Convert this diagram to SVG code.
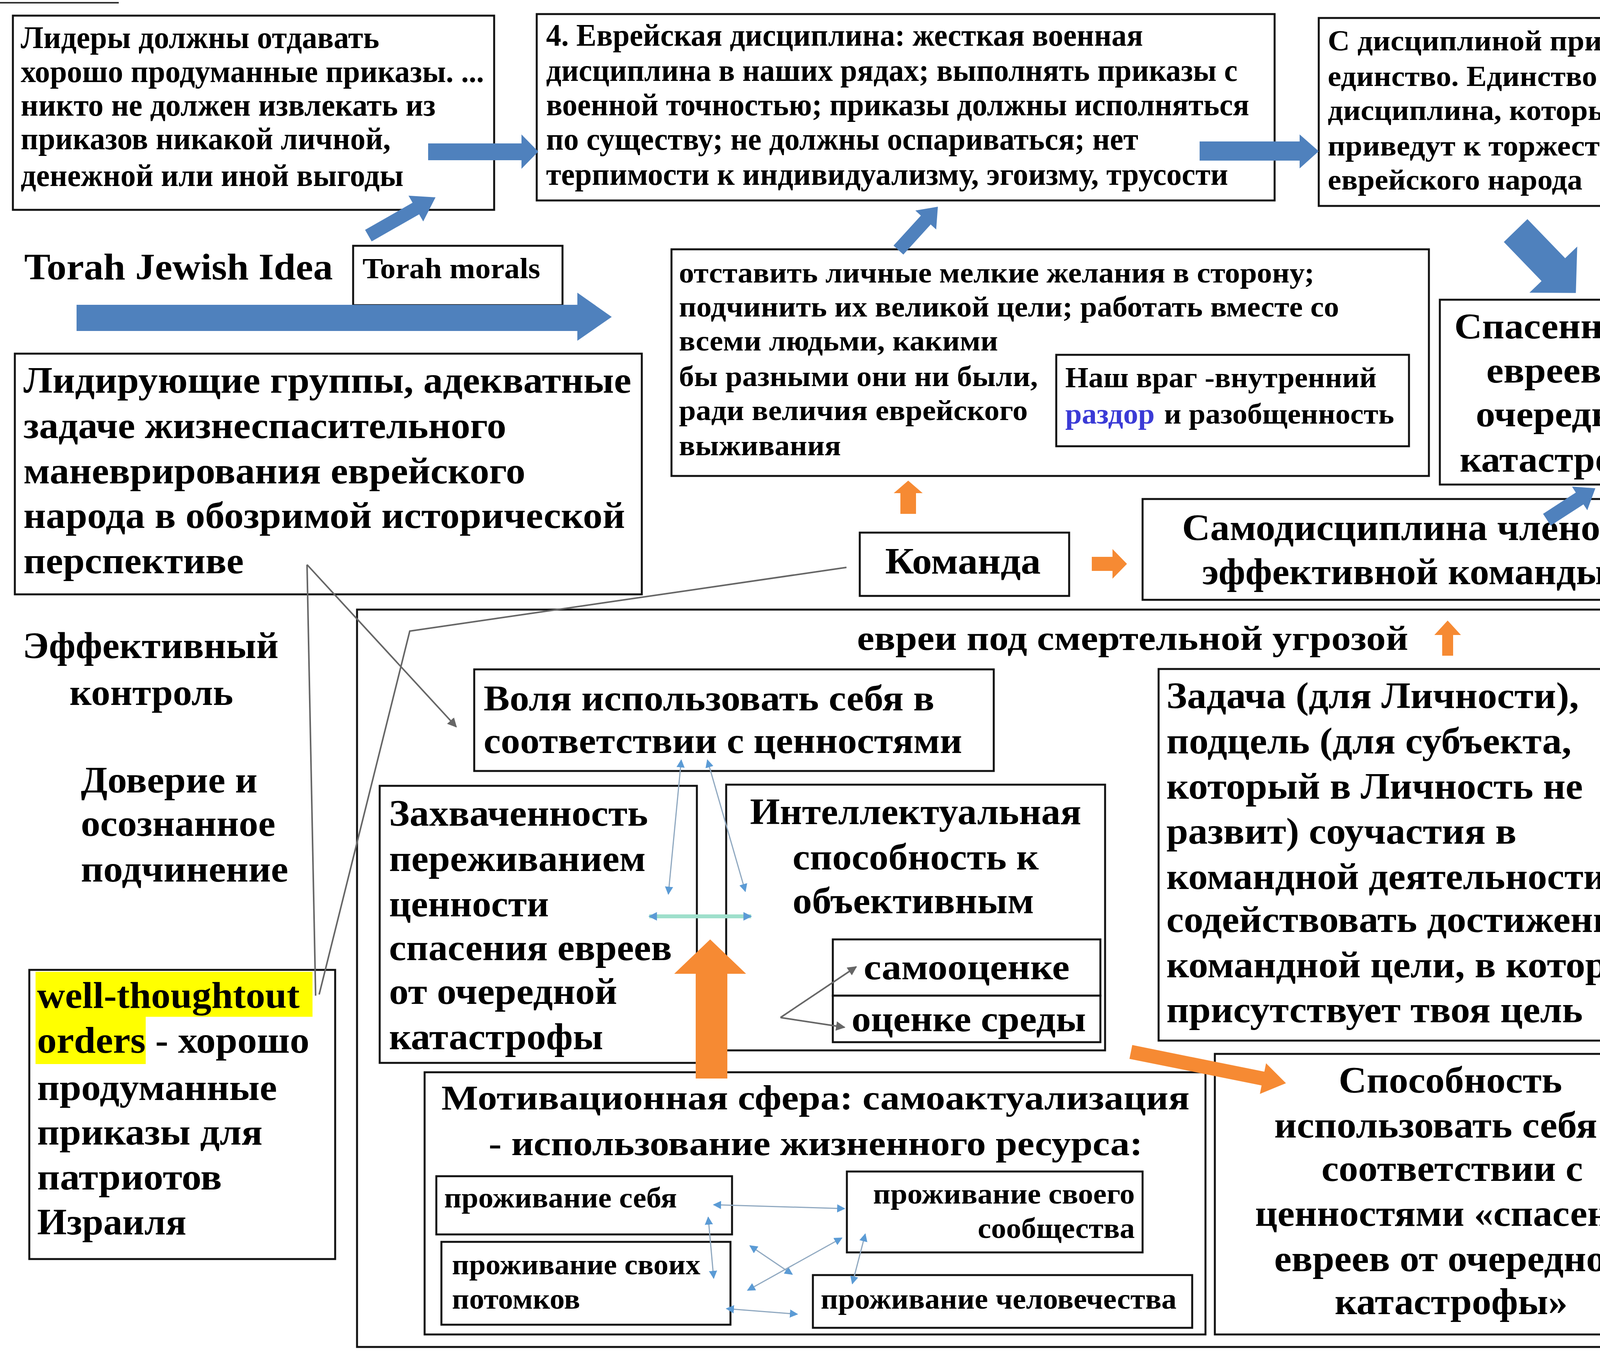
<svg xmlns="http://www.w3.org/2000/svg" width="4370" height="3465" viewBox="0 0 4370 3465">
<style>
.box{fill:#fff;stroke:#111;stroke-width:5}
.t{font-family:"Liberation Serif","Times New Roman",serif;font-weight:700;fill:#000}
.s74{font-size:74px}.s80{font-size:80px}.s88{font-size:88px}.s94{font-size:94px}.s96{font-size:96px}
.blue{fill:#4F81BD}
.orange{fill:#F68A33}
.gl{fill:none;stroke:#666;stroke-width:4}
.bl{fill:none;stroke:#8FA8C0;stroke-width:3}
</style>
<defs>
<marker id="ga" viewBox="0 0 10 10" refX="9" refY="5" markerWidth="6" markerHeight="6" orient="auto-start-reverse"><path d="M0,0L10,5L0,10z" fill="#666"/></marker>
<marker id="ba" viewBox="0 0 10 10" refX="9" refY="5" markerWidth="7" markerHeight="7" orient="auto-start-reverse"><path d="M0,0L10,5L0,10z" fill="#5B9BD5"/></marker>
<marker id="bu" viewBox="0 0 10 10" refX="9" refY="5" markerUnits="userSpaceOnUse" markerWidth="22" markerHeight="22" orient="auto-start-reverse"><path d="M0,0L10,5L0,10z" fill="#5B9BD5"/></marker>
</defs>
<rect width="4370" height="3465" fill="#fff"/>
<line x1="0" y1="7" x2="304" y2="7" stroke="#333" stroke-width="4"/>

<g id="frame"><rect class="box" x="914" y="1560" width="3429" height="1887"/></g>

<g id="n-leaders">
<rect class="box" x="33" y="40" width="1232" height="497"/>
<text class="t s80" x="53" y="123" textLength="918" lengthAdjust="spacingAndGlyphs">Лидеры должны отдавать</text>
<text class="t s80" x="53" y="210" textLength="1186" lengthAdjust="spacingAndGlyphs">хорошо продуманные приказы. ...</text>
<text class="t s80" x="53" y="296" textLength="1062" lengthAdjust="spacingAndGlyphs">никто не должен извлекать из</text>
<text class="t s80" x="53" y="382" textLength="947" lengthAdjust="spacingAndGlyphs">приказов никакой личной,</text>
<text class="t s80" x="53" y="476" textLength="980" lengthAdjust="spacingAndGlyphs">денежной или иной выгоды</text>
</g>

<g id="n-discipline">
<rect class="box" x="1374" y="36" width="1889" height="477"/>
<text class="t s80" x="1398" y="117" textLength="1528" lengthAdjust="spacingAndGlyphs">4. Еврейская дисциплина: жесткая военная</text>
<text class="t s80" x="1398" y="207" textLength="1770" lengthAdjust="spacingAndGlyphs">дисциплина в наших рядах; выполнять приказы с</text>
<text class="t s80" x="1398" y="295" textLength="1800" lengthAdjust="spacingAndGlyphs">военной точностью; приказы должны исполняться</text>
<text class="t s80" x="1398" y="383" textLength="1516" lengthAdjust="spacingAndGlyphs">по существу; не должны оспариваться; нет</text>
<text class="t s80" x="1398" y="473" textLength="1746" lengthAdjust="spacingAndGlyphs">терпимости к индивидуализму, эгоизму, трусости</text>
</g>

<g id="n-unity">
<rect class="box" x="3376" y="46" width="958" height="481"/>
<text class="t s74" x="3399" y="129" textLength="898" lengthAdjust="spacingAndGlyphs">С дисциплиной приходит</text>
<text class="t s74" x="3399" y="220" textLength="754" lengthAdjust="spacingAndGlyphs">единство. Единство и</text>
<text class="t s74" x="3399" y="307" textLength="761" lengthAdjust="spacingAndGlyphs">дисциплина, которые</text>
<text class="t s74" x="3399" y="398" textLength="775" lengthAdjust="spacingAndGlyphs">приведут к торжеству</text>
<text class="t s74" x="3399" y="485" textLength="652" lengthAdjust="spacingAndGlyphs">еврейского народа</text>
</g>

<g id="n-torah-idea">
<text class="t" font-size="95" x="62" y="715" textLength="790" lengthAdjust="spacingAndGlyphs">Torah Jewish Idea</text>
</g>

<g id="n-torah-morals">
<rect class="box" x="904" y="629" width="536" height="152"/>
<text class="t s74" x="928" y="712" textLength="455" lengthAdjust="spacingAndGlyphs">Torah morals</text>
</g>

<g id="n-salvation">
<rect class="box" x="3686" y="767" width="648" height="473"/>
<text class="t s94" x="3723" y="866" textLength="574" lengthAdjust="spacingAndGlyphs">Спасенность</text>
<text class="t s94" x="3805" y="979" textLength="416" lengthAdjust="spacingAndGlyphs">евреев от</text>
<text class="t s94" x="3778" y="1091" textLength="460" lengthAdjust="spacingAndGlyphs">очередной</text>
<text class="t s94" x="3737" y="1207" textLength="539" lengthAdjust="spacingAndGlyphs">катастрофы</text>
</g>

<g id="n-setaside">
<rect class="box" x="1719" y="638" width="1939" height="580"/>
<text class="t s74" x="1738" y="723" textLength="1627" lengthAdjust="spacingAndGlyphs">отставить личные мелкие желания в сторону;</text>
<text class="t s74" x="1738" y="810" textLength="1690" lengthAdjust="spacingAndGlyphs">подчинить их великой цели; работать вместе со</text>
<text class="t s74" x="1738" y="897" textLength="817" lengthAdjust="spacingAndGlyphs">всеми людьми, какими</text>
<text class="t s74" x="1738" y="988" textLength="919" lengthAdjust="spacingAndGlyphs">бы разными они ни были,</text>
<text class="t s74" x="1738" y="1075" textLength="893" lengthAdjust="spacingAndGlyphs">ради величия еврейского</text>
<text class="t s74" x="1738" y="1165" textLength="415" lengthAdjust="spacingAndGlyphs">выживания</text>
</g>

<g id="n-enemy">
<rect class="box" x="2704" y="908" width="903" height="234"/>
<text class="t s74" x="2727" y="991" textLength="797" lengthAdjust="spacingAndGlyphs">Наш враг -внутренний</text>
<text class="t s74" x="2727" y="1084" textLength="229" lengthAdjust="spacingAndGlyphs" style="fill:#3B3BD6">раздор</text>
<text class="t s74" x="2980" y="1084" textLength="589" lengthAdjust="spacingAndGlyphs">и разобщенность</text>
</g>

<g id="n-leading-groups">
<rect class="box" x="38" y="905" width="1605" height="616"/>
<text class="t s96" x="60" y="1005" textLength="1556" lengthAdjust="spacingAndGlyphs">Лидирующие группы, адекватные</text>
<text class="t s96" x="60" y="1121" textLength="1236" lengthAdjust="spacingAndGlyphs">задаче жизнеспасительного</text>
<text class="t s96" x="60" y="1237" textLength="1285" lengthAdjust="spacingAndGlyphs">маневрирования еврейского</text>
<text class="t s96" x="60" y="1351" textLength="1540" lengthAdjust="spacingAndGlyphs">народа в обозримой исторической</text>
<text class="t s96" x="60" y="1467" textLength="564" lengthAdjust="spacingAndGlyphs">перспективе</text>
</g>

<g id="n-team">
<rect class="box" x="2201" y="1363" width="536" height="162"/>
<text class="t s96" x="2266" y="1468" textLength="398" lengthAdjust="spacingAndGlyphs">Команда</text>
</g>

<g id="n-selfdiscipline">
<rect class="box" x="2925" y="1277" width="1331" height="258"/>
<text class="t s96" x="3026" y="1382" textLength="1122" lengthAdjust="spacingAndGlyphs">Самодисциплина членов</text>
<text class="t s96" x="3077" y="1495" textLength="1035" lengthAdjust="spacingAndGlyphs">эффективной команды</text>
</g>

<g id="n-threat">
<text class="t s88" x="2194" y="1663" textLength="1411" lengthAdjust="spacingAndGlyphs">евреи под смертельной угрозой</text>
</g>

<g id="n-control">
<text class="t s96" x="58" y="1684" textLength="655" lengthAdjust="spacingAndGlyphs">Эффективный</text>
<text class="t s96" x="178" y="1804" textLength="419" lengthAdjust="spacingAndGlyphs">контроль</text>
</g>

<g id="n-trust">
<text class="t s96" x="207" y="2028" textLength="452" lengthAdjust="spacingAndGlyphs">Доверие и</text>
<text class="t s96" x="207" y="2139" textLength="498" lengthAdjust="spacingAndGlyphs">осознанное</text>
<text class="t s96" x="207" y="2256" textLength="531" lengthAdjust="spacingAndGlyphs">подчинение</text>
</g>

<g id="n-orders">
<rect class="box" x="75" y="2482" width="783" height="740"/>
<rect x="91" y="2487" width="709" height="115" fill="#FFFF00"/>
<rect x="91" y="2602" width="282" height="121" fill="#FFFF00"/>
<text class="t s96" x="95" y="2579" textLength="672" lengthAdjust="spacingAndGlyphs">well-thoughtout</text>
<text class="t s96" x="95" y="2694" textLength="697" lengthAdjust="spacingAndGlyphs">orders - хорошо</text>
<text class="t s96" x="95" y="2815" textLength="614" lengthAdjust="spacingAndGlyphs">продуманные</text>
<text class="t s96" x="95" y="2929" textLength="577" lengthAdjust="spacingAndGlyphs">приказы для</text>
<text class="t s96" x="95" y="3044" textLength="473" lengthAdjust="spacingAndGlyphs">патриотов</text>
<text class="t s96" x="95" y="3159" textLength="382" lengthAdjust="spacingAndGlyphs">Израиля</text>
</g>

<g id="n-will">
<rect class="box" x="1214" y="1713" width="1330" height="260"/>
<text class="t s94" x="1238" y="1818" textLength="1154" lengthAdjust="spacingAndGlyphs">Воля использовать себя в</text>
<text class="t s94" x="1238" y="1927" textLength="1225" lengthAdjust="spacingAndGlyphs">соответствии с ценностями</text>
</g>

<g id="n-captured">
<rect class="box" x="972" y="2011" width="812" height="709"/>
<text class="t s96" x="996" y="2113" textLength="663" lengthAdjust="spacingAndGlyphs">Захваченность</text>
<text class="t s96" x="996" y="2229" textLength="657" lengthAdjust="spacingAndGlyphs">переживанием</text>
<text class="t s96" x="996" y="2345" textLength="409" lengthAdjust="spacingAndGlyphs">ценности</text>
<text class="t s96" x="996" y="2457" textLength="724" lengthAdjust="spacingAndGlyphs">спасения евреев</text>
<text class="t s96" x="996" y="2569" textLength="584" lengthAdjust="spacingAndGlyphs">от очередной</text>
<text class="t s96" x="996" y="2685" textLength="548" lengthAdjust="spacingAndGlyphs">катастрофы</text>
</g>

<g id="n-intellect">
<rect class="box" x="1859" y="2008" width="970" height="680"/>
<text class="t s96" x="1920" y="2109" textLength="848" lengthAdjust="spacingAndGlyphs">Интеллектуальная</text>
<text class="t s96" x="2029" y="2225" textLength="630" lengthAdjust="spacingAndGlyphs">способность к</text>
<text class="t s96" x="2029" y="2337" textLength="618" lengthAdjust="spacingAndGlyphs">объективным</text>
</g>

<g id="n-selfeval">
<rect class="box" x="2132" y="2404" width="685" height="144"/>
<text class="t s94" x="2211" y="2506" textLength="527" lengthAdjust="spacingAndGlyphs">самооценке</text>
</g>
<g id="n-enveval">
<rect class="box" x="2132" y="2548" width="685" height="119"/>
<text class="t s94" x="2180" y="2639" textLength="600" lengthAdjust="spacingAndGlyphs">оценке среды</text>
</g>

<g id="n-task">
<rect class="box" x="2966" y="1712" width="1328" height="951"/>
<text class="t s96" x="2986" y="1812" textLength="1056" lengthAdjust="spacingAndGlyphs">Задача (для Личности),</text>
<text class="t s96" x="2986" y="1928" textLength="1037" lengthAdjust="spacingAndGlyphs">подцель (для субъекта,</text>
<text class="t s96" x="2986" y="2044" textLength="1066" lengthAdjust="spacingAndGlyphs">который в Личность не</text>
<text class="t s96" x="2986" y="2159" textLength="896" lengthAdjust="spacingAndGlyphs">развит) соучастия в</text>
<text class="t s96" x="2986" y="2275" textLength="1158" lengthAdjust="spacingAndGlyphs">командной деятельности:</text>
<text class="t s96" x="2986" y="2385" textLength="1226" lengthAdjust="spacingAndGlyphs">содействовать достижению</text>
<text class="t s96" x="2986" y="2501" textLength="1236" lengthAdjust="spacingAndGlyphs">командной цели, в которой</text>
<text class="t s96" x="2986" y="2616" textLength="1066" lengthAdjust="spacingAndGlyphs">присутствует твоя цель</text>
</g>

<g id="n-ability">
<rect class="box" x="3110" y="2697" width="1213" height="718"/>
<text class="t s96" x="3427" y="2796" textLength="572" lengthAdjust="spacingAndGlyphs">Способность</text>
<text class="t s96" x="3262" y="2911" textLength="906" lengthAdjust="spacingAndGlyphs">использовать себя в</text>
<text class="t s96" x="3383" y="3022" textLength="669" lengthAdjust="spacingAndGlyphs">соответствии с</text>
<text class="t s96" x="3213" y="3137" textLength="1009" lengthAdjust="spacingAndGlyphs">ценностями «спасение</text>
<text class="t s96" x="3262" y="3253" textLength="906" lengthAdjust="spacingAndGlyphs">евреев от очередной</text>
<text class="t s96" x="3417" y="3363" textLength="596" lengthAdjust="spacingAndGlyphs">катастрофы»</text>
</g>

<g id="n-motivation">
<rect class="box" x="1087" y="2744" width="1999" height="671"/>
<text class="t s88" x="1130" y="2839" textLength="1915" lengthAdjust="spacingAndGlyphs">Мотивационная сфера: самоактуализация</text>
<text class="t s88" x="1251" y="2956" textLength="1674" lengthAdjust="spacingAndGlyphs">- использование жизненного ресурса:</text>
</g>
<g id="n-self">
<rect class="box" x="1117" y="3010" width="757" height="149"/>
<text class="t s74" x="1137" y="3090" textLength="596" lengthAdjust="spacingAndGlyphs">проживание себя</text>
</g>
<g id="n-descendants">
<rect class="box" x="1130" y="3178" width="740" height="212"/>
<text class="t s74" x="1157" y="3261" textLength="636" lengthAdjust="spacingAndGlyphs">проживание своих</text>
<text class="t s74" x="1157" y="3349" textLength="328" lengthAdjust="spacingAndGlyphs">потомков</text>
</g>
<g id="n-community">
<rect class="box" x="2168" y="2998" width="757" height="207"/>
<text class="t s74" x="2235" y="3080" textLength="670" lengthAdjust="spacingAndGlyphs">проживание своего</text>
<text class="t s74" x="2503" y="3168" textLength="402" lengthAdjust="spacingAndGlyphs">сообщества</text>
</g>
<g id="n-humanity">
<rect class="box" x="2081" y="3263" width="971" height="135"/>
<text class="t s74" x="2101" y="3349" textLength="911" lengthAdjust="spacingAndGlyphs">проживание человечества</text>
</g>

<g id="connectors">
<polygon class="blue" points="1096,367 1335,367 1335,344 1378,388 1335,432 1335,410 1096,410"/>
<polygon class="blue" transform="translate(943,603) rotate(-29.7)" points="0,-17 140,-17 140,-38 198,0 140,38 140,17 0,17"/>
<polygon class="blue" points="196,780 1478,780 1478,749 1566,811 1478,872 1478,847 196,847"/>
<polygon class="blue" points="3071,362 3327,362 3327,344 3376,387 3327,431 3327,411 3071,411"/>
<polygon class="blue" transform="translate(3880,590) rotate(46)" points="0,-42 139,-42 139,-85 222,0 139,85 139,42 0,42"/>
<polygon class="blue" transform="translate(2300,640) rotate(-47.7)" points="0,-17 104,-17 104,-36 150,0 104,36 104,17 0,17"/>
<polygon class="blue" transform="translate(3960,1330) rotate(-33)" points="0,-18 100,-18 100,-36 148,0 100,36 100,18 0,18"/>
<polygon class="orange" points="2305,1315 2305,1262 2288,1262 2325,1230 2362,1262 2345,1262 2345,1315"/>
<polygon class="orange" points="2795,1425 2848,1425 2848,1405 2885,1443 2848,1481 2848,1461 2795,1461"/>
<polygon class="orange" points="3692,1678 3692,1625 3672,1625 3706,1588 3740,1625 3720,1625 3720,1678"/>
<polygon class="orange" points="1781,2760 1781,2492 1726,2492 1818,2404 1910,2492 1862,2492 1862,2760"/>
<polygon class="orange" transform="translate(2895,2692) rotate(11.4)" points="0,-18 345,-18 345,-40 405,0 345,40 345,18 0,18"/>
<line class="gl" x1="786" y1="1445" x2="808" y2="2548"/>
<line class="gl" x1="786" y1="1445" x2="1168" y2="1860" marker-end="url(#ga)"/>
<polyline class="gl" points="817,2545 1049,1615 2167,1452"/>
<line class="gl" x1="1998" y1="2604" x2="2192" y2="2474" marker-end="url(#ga)"/>
<line class="gl" x1="1998" y1="2604" x2="2162" y2="2629" marker-end="url(#ga)"/>
<line class="bl" x1="1744" y1="1945" x2="1711" y2="2288" marker-start="url(#ba)" marker-end="url(#ba)"/>
<line class="bl" x1="1811" y1="1945" x2="1908" y2="2281" marker-start="url(#ba)" marker-end="url(#ba)"/>
<line x1="1662" y1="2345" x2="1923" y2="2345" stroke="#9EDFCB" stroke-width="10" marker-start="url(#bu)" marker-end="url(#bu)"/>
<line class="bl" x1="1827" y1="3083" x2="2162" y2="3093" marker-start="url(#ba)" marker-end="url(#ba)"/>
<line class="bl" x1="1813" y1="3115" x2="1827" y2="3271" marker-start="url(#ba)" marker-end="url(#ba)"/>
<line class="bl" x1="1920" y1="3188" x2="2028" y2="3261" marker-start="url(#ba)" marker-end="url(#ba)"/>
<line class="bl" x1="1914" y1="3302" x2="2155" y2="3168" marker-start="url(#ba)" marker-end="url(#ba)"/>
<line class="bl" x1="1860" y1="3349" x2="2041" y2="3363" marker-start="url(#ba)" marker-end="url(#ba)"/>
<line class="bl" x1="2182" y1="3285" x2="2215" y2="3158" marker-start="url(#ba)" marker-end="url(#ba)"/>
</g>
</svg>
